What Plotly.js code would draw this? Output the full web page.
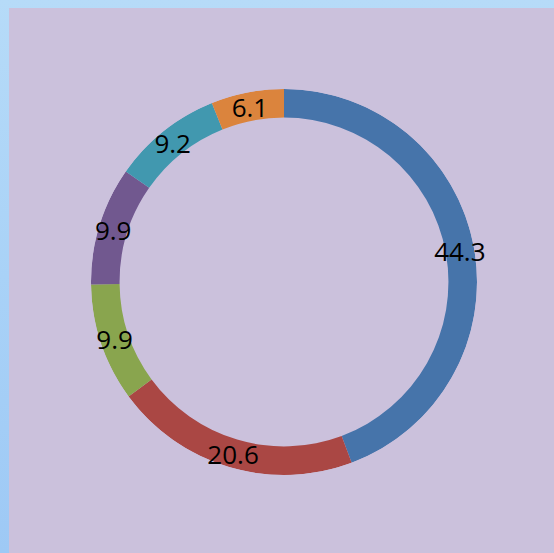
<!DOCTYPE html>
<html>
<head>
<meta charset="utf-8">
<script src="https://cdn.plot.ly/plotly-3.0.1.min.js"></script>
<style>
  html, body { margin: 0; padding: 0; }
  body {
    width: 554px; height: 553px; overflow: hidden; position: relative;
    background: linear-gradient(to bottom, #B6DBF8 0%, #A9D2F7 50%, #9EC9F5 100%);
  }
  #chart { position: absolute; left: 9px; top: 8px; width: 545px; height: 545px; }
</style>
</head>
<body>
<div id="chart"></div>
<script>
const categories = ["A", "B", "C", "D", "E", "F"];
const values = [44.3, 20.6, 9.9, 9.9, 9.2, 6.1];
const labels = values.map(v => v.toFixed(1));
const colors = ["#4674AA", "#AA4744", "#89A54E", "#71588F", "#4198AF", "#DB843D"];

const HOLE = 0.852;
const total = values.reduce((a, b) => a + b, 0);
let acc = 0;
const mids = [];
const widths = [];
values.forEach(v => {
  mids.push((acc + v / 2) / total * 360);
  widths.push(v / total * 360);
  acc += v;
});

const ring = {
  type: "barpolar",
  subplot: "polar",
  theta: mids,
  width: widths,
  base: values.map(() => HOLE),
  r: values.map(() => 1 - HOLE),
  marker: { color: colors, line: { width: 0 } },
  text: categories,
  hoverinfo: "none",
  showlegend: false
};

const txt = {
  type: "scatterpolar",
  subplot: "polar2",
  mode: "text",
  theta: mids,
  r: values.map(() => (1 + HOLE) / 2),
  text: labels,
  textposition: "middle center",
  textfont: { family: "Open Sans, sans-serif", size: 26, color: "#000000" },
  hoverinfo: "none",
  showlegend: false
};

const hiddenPolar = (dom) => ({
  domain: dom,
  bgcolor: "rgba(0,0,0,0)",
  bargap: 0,
  hole: 0,
  radialaxis: { range: [0, 1], autorange: false, visible: false },
  angularaxis: { rotation: 90, direction: "clockwise", visible: false }
});

const layout = {
  width: 545,
  height: 545,
  margin: { l: 82, r: 77, t: 81, b: 70 },
  paper_bgcolor: "#CBC1DC",
  showlegend: false,
  polar: hiddenPolar({ x: [0, 1], y: [8 / 394, 1] }),
  polar2: hiddenPolar({ x: [0, 1], y: [4 / 394, 390 / 394] })
};

Plotly.newPlot("chart", [ring, txt], layout, { displayModeBar: false, staticPlot: true });
</script>
</body>
</html>
